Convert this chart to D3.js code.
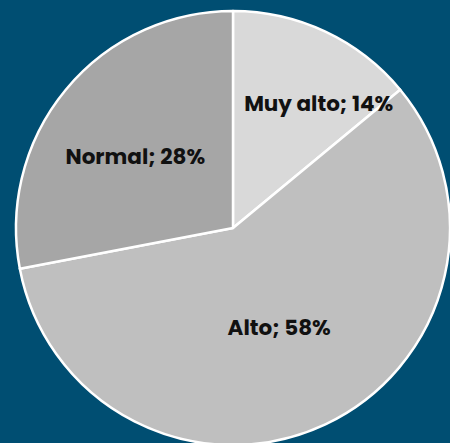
<!DOCTYPE html>
<html>
<head>
<meta charset="utf-8">
<script src="https://cdn.jsdelivr.net/npm/d3@7"></script>
<style>
  html, body { margin: 0; padding: 0; background: #004e72; }
  svg { display: block; }
</style>
</head>
<body>
<div id="chart"></div>
<script>
// slices go clockwise from 12 o'clock
const categories = ["Muy alto", "Alto", "Normal"];
const values = [14, 58, 28];
const colors = ["#d9d9d9", "#bfbfbf", "#a6a6a6"];

const width = 450;
const height = 443;
const cx = 233;
const cy = 228;
const radius = 217;

// label placement: fraction of radius along mid angle, plus small nudge
const labelPos = [
  { r: 0.70, dx: 21, dy: 13 },
  { r: 0.50, dx: 0, dy: 1 },
  { r: 0.56, dx: -4, dy: 6 }
];

const data = categories.map((c, i) => ({ name: c, value: values[i], color: colors[i] }));

const svg = d3.select("#chart")
              .append("svg")
              .attr("width", width)
              .attr("height", height);

svg.append("rect")
   .attr("width", width)
   .attr("height", height)
   .attr("fill", "#004e72");

const pie = d3.pie()
              .value(d => d.value)
              .sort(null);

const arc = d3.arc()
              .innerRadius(0)
              .outerRadius(radius);

const g = svg.append("g")
             .attr("transform", `translate(${cx}, ${cy})`);

const arcs = pie(data);

g.selectAll("path")
 .data(arcs)
 .enter()
 .append("path")
 .attr("d", arc)
 .attr("fill", d => d.data.color)
 .attr("stroke", "#ffffff")
 .attr("stroke-width", 2.5)
 .attr("stroke-linejoin", "round");

g.selectAll("text")
 .data(arcs)
 .enter()
 .append("text")
 .attr("transform", (d, i) => {
   const r = radius * labelPos[i].r;
   const a = (d.startAngle + d.endAngle) / 2;
   const x = Math.sin(a) * r + labelPos[i].dx;
   const y = -Math.cos(a) * r + labelPos[i].dy;
   return `translate(${x}, ${y})`;
 })
 .attr("text-anchor", "middle")
 .attr("dominant-baseline", "central")
 .style("font-family", "Poppins, Inter, 'Noto Sans', sans-serif")
 .style("font-weight", "700")
 .style("font-size", "21.5px")
 .style("fill", "#111111")
 .text(d => `${d.data.name}; ${d.data.value}%`);
</script>
</body>
</html>
